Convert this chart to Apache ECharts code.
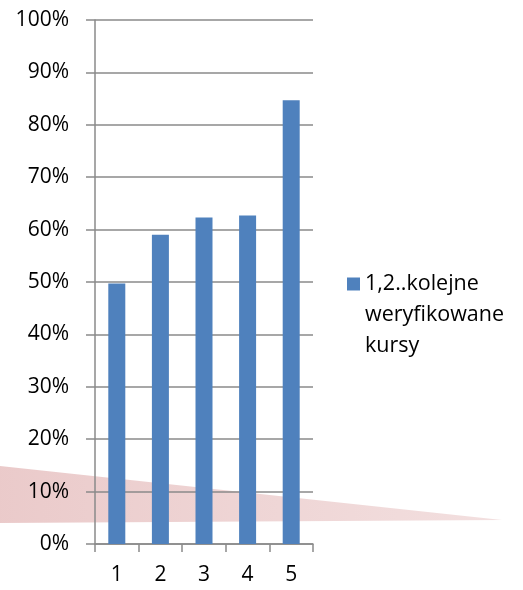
<!DOCTYPE html>
<html>
<head>
<meta charset="utf-8">
<script src="https://cdn.jsdelivr.net/npm/echarts@6/dist/echarts.min.js"></script>
<style>
  html, body { margin: 0; padding: 0; background: #ffffff; }
  #chart { width: 523px; height: 590px; }
</style>
</head>
<body>
<div id="chart"></div>
<script>
// Course numbers along the x axis
const categories = ['1', '2', '3', '4', '5'];
// Share per verified course, in percent
const values = [49.7, 59.0, 62.3, 62.7, 84.7];
// Legend label
const seriesName = '1,2..kolejne\nweryfikowane\nkursy';

const FONT = '"Open Sans", "Liberation Sans", sans-serif';
const AXIS_GREY = '#8a8a8a';
const LEGEND_LINE = 31;

const chart = echarts.init(document.getElementById('chart'), null, { renderer: 'canvas' });

chart.setOption({
  backgroundColor: '#ffffff',
  animation: false,
  graphic: [
    {
      // Decorative pink wedge in the background
      type: 'polygon',
      z: -10,
      silent: true,
      shape: { points: [[0, 466], [502, 520], [0, 523]] },
      style: {
        fill: new echarts.graphic.LinearGradient(0, 0, 1, 0, [
          { offset: 0, color: 'rgba(214, 150, 150, 0.5)' },
          { offset: 1, color: 'rgba(214, 150, 150, 0.3)' }
        ])
      }
    }
  ],
  grid: { left: 95, right: 210, top: 20, bottom: 46, containLabel: false },
  legend: {
    left: 347,
    // the label block is centred on the swatch; two blank lines above keep
    // the swatch level with the first line of text
    top: 284 - 2.5 * LEGEND_LINE,
    padding: 0,
    orient: 'vertical',
    itemWidth: 13,
    itemHeight: 13,
    itemGap: 0,
    icon: 'rect',
    formatter: function (name) { return '\n\n' + name; },
    textStyle: {
      fontFamily: FONT,
      fontSize: 21.5,
      color: '#000',
      lineHeight: LEGEND_LINE
    },
    data: [seriesName]
  },
  xAxis: {
    type: 'category',
    data: categories,
    axisLine: { lineStyle: { color: AXIS_GREY, width: 1.5 } },
    axisTick: { show: true, length: 8, lineStyle: { color: AXIS_GREY, width: 1.5 } },
    axisLabel: { fontFamily: FONT, fontSize: 21, color: '#000', margin: 21 },
    splitLine: { show: false }
  },
  yAxis: {
    type: 'value',
    min: 0,
    max: 100,
    interval: 10,
    axisLine: { show: true, lineStyle: { color: AXIS_GREY, width: 1.5 } },
    axisTick: { show: true, length: 9, lineStyle: { color: AXIS_GREY, width: 1.5 } },
    axisLabel: { fontFamily: FONT, fontSize: 21, color: '#000', margin: 26, formatter: '{value}%' },
    splitLine: { show: true, lineStyle: { color: AXIS_GREY, width: 1.5 } }
  },
  series: [
    {
      name: seriesName,
      type: 'bar',
      data: values,
      barWidth: 17,
      itemStyle: { color: '#4f81bd' }
    }
  ]
});
</script>
</body>
</html>
